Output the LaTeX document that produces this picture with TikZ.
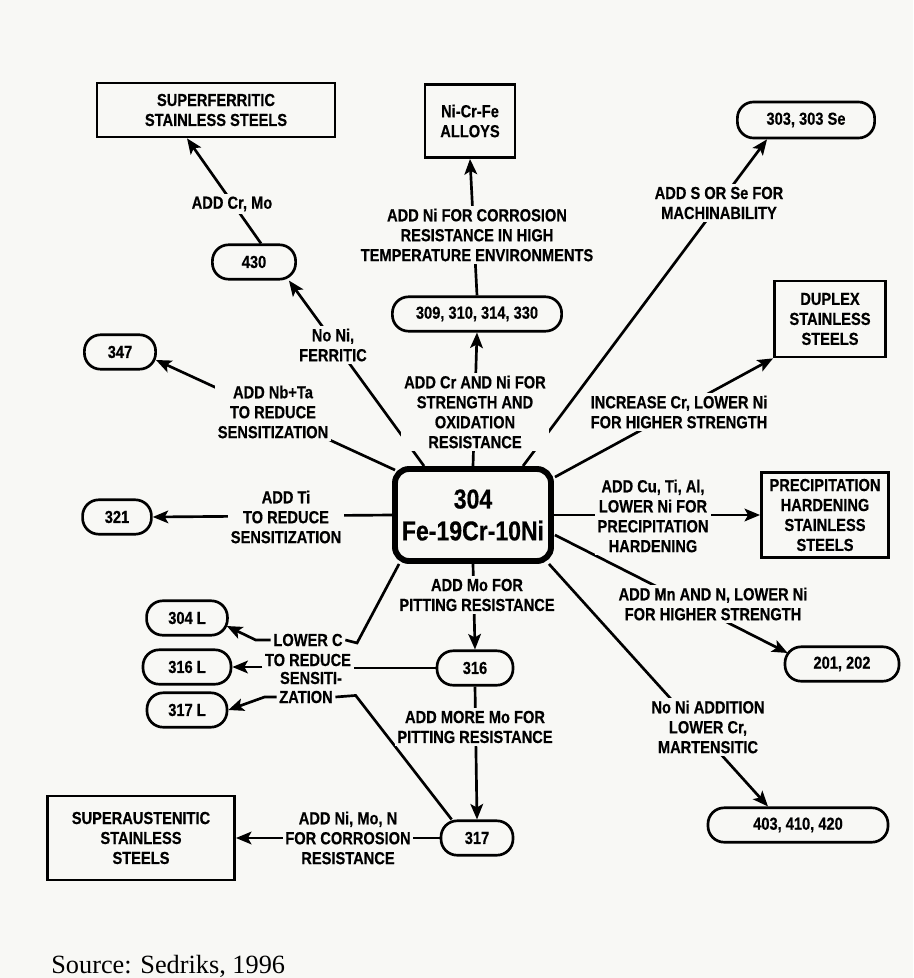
\documentclass[tikz,border=0pt]{standalone}
\usepackage{fontspec}
\setmainfont{Liberation Sans}[FakeStretch=0.84, BoldFeatures={FakeBold=0.4}]
\newfontfamily\srcfont{Liberation Serif}
\usetikzlibrary{calc,arrows.meta}
\definecolor{paper}{RGB}{248,248,245}

\begin{document}
\begin{tikzpicture}[x=0.025cm, y=-0.025cm, line width=1.9pt,
    every node/.style={font=\fontsize{12.4}{14.2}\selectfont\bfseries, align=center, inner sep=1pt},
    box/.style={draw, rectangle},
    pill/.style={draw, rectangle, rounded corners=11.5pt, minimum height=0.86cm},
    lbl/.style={fill=paper, inner sep=2pt},
    arr/.style={-{Stealth[length=11pt, width=9pt, inset=2.5pt]}}]
    \useasboundingbox (0,0) rectangle (913,978);
    \clip (0,0) rectangle (913,978);
    \fill[paper] (0,0) rectangle (913,978);
    \node[draw, line width=4.2pt, rounded corners=10pt, minimum width=3.9cm, minimum height=2.3cm, font=\fontsize{19.5}{22.7}\selectfont\bfseries] (304) at (473,515) {304\\Fe-19Cr-10Ni};
    \node[box, minimum width=5.95cm, minimum height=1.35cm] (superferritic) at (216,110) {SUPERFERRITIC\\STAINLESS STEELS};
    \node[box, minimum width=2.25cm, minimum height=1.83cm] (nicrfe) at (470,121) {Ni-Cr-Fe\\ALLOYS};
    \node[pill, minimum width=3.43cm, minimum height=0.9cm] (303) at (806,120) {303, 303 Se};
    \node[pill, minimum width=2.08cm] (430) at (254,262) {430};
    \node[pill, minimum width=4.23cm] (309) at (477,314) {309, 310, 314, 330};
    \node[pill, minimum width=1.78cm] (347) at (120,352) {347};
    \node[box, minimum width=2.78cm, minimum height=1.9cm] (duplex) at (830,319) {DUPLEX\\STAINLESS\\STEELS};
    \node[pill, minimum width=1.72cm] (321) at (117,517) {321};
    \node[box, minimum width=3.18cm, minimum height=2.13cm] (ph) at (825,515) {PRECIPITATION\\HARDENING\\STAINLESS\\STEELS};
    \node[pill, minimum width=2.02cm] (304L) at (187,618) {304 L};
    \node[pill, minimum width=2.2cm] (316L) at (187,667) {316 L};
    \node[pill, minimum width=2.0cm] (317L) at (187,710) {317 L};
    \node[pill, minimum width=1.9cm] (316) at (475,668) {316};
    \node[pill, minimum width=1.8cm] (317) at (477,838) {317};
    \node[box, minimum width=4.68cm, minimum height=2.1cm] (superaustenitic) at (141,838) {SUPERAUSTENITIC\\STAINLESS\\STEELS};
    \node[pill, minimum width=2.85cm] (201) at (842,664) {201, 202};
    \node[pill, minimum width=4.5cm] (403) at (798,825) {403, 410, 420};
    \node (lowc) at (308,640) {LOWER C};
    \node (reduce) at (308,660) {TO REDUCE};
    \node (sensiti) at (311,678) {SENSITI-};
    \node (zation) at (306,697) {ZATION};
    \draw[arr] ($(304.north west)+(32,0)$) -- ($(430.south east)+(-8,0)$);
    \draw[arr] ($(430.north)+(7,0)$) -- ($(superferritic.south)+(-29,0)$);
    \draw[arr] (304.north) -- (309.south);
    \draw[arr] (309.north) -- (nicrfe.south);
    \draw[arr] ($(304.north west)+(3,4)$) -- ($(347.east)+(-1,8)$);
    \draw[arr] ($(304.north)+(50,0)$) -- ($(303.south)+(-39,0)$);
    \draw[arr] ($(304.north east)+(1,11)$) -- (duplex.south west);
    \draw[arr] (304.east) -- (ph.west);
    \draw[arr] ($(304.east)+(1,20)$) -- ($(201.west)+(4,-11)$);
    \draw[arr] ($(304.south east)+(-5,0)$) -- ($(403.north)+(-30,0)$);
    \draw[arr] (304.west) -- (321.east);
    \draw[arr] (304.south) -- (316.north);
    \draw[arr] (316.south) -- (317.north);
    \draw[arr] (317.west) -- (superaustenitic.east);
    \draw ($(304.south west)+(7,0)$) -- ++(-42,79) -- (lowc.east);
    \draw[arr] (lowc.west) -- ++(-15,0) -- ($(304L.east)+(-2,8)$);
    \draw (316.west) -- (reduce.east |- 316.west);
    \draw[arr] (reduce.west |- 316L.east) -- (316L.east);
    \draw ($(317.north west)+(12,0)$) -- ++(-96,-124) -- (zation.east);
    \draw[arr] (zation.west) -- ++(-12,0) -- (317L.east);
    \node[lbl] (crmo) at (232,204) {ADD Cr, Mo};
    \node[lbl] (noni) at (333,345) {No Ni,\\FERRITIC};
    \node[lbl] (nbta) at (273,412) {ADD Nb+Ta\\TO REDUCE\\SENSITIZATION};
    \node[lbl] (hightemp) at (477,235) {ADD Ni FOR CORROSION\\RESISTANCE IN HIGH\\TEMPERATURE ENVIRONMENTS};
    \node[lbl] (oxid) at (475,412) {ADD Cr AND Ni FOR\\STRENGTH AND\\OXIDATION\\RESISTANCE};
    \node[lbl] (machin) at (719,203) {ADD S OR Se FOR\\MACHINABILITY};
    \node[lbl] (crni) at (679,412) {INCREASE Cr, LOWER Ni\\FOR HIGHER STRENGTH};
    \node[lbl] (ti) at (286,517) {ADD Ti\\TO REDUCE\\SENSITIZATION};
    \node[lbl] (cutial) at (653,516) {ADD Cu, Ti, Al,\\LOWER Ni FOR\\PRECIPITATION\\HARDENING};
    \node[lbl] (mnn) at (713,604) {ADD Mn AND N, LOWER Ni\\FOR HIGHER STRENGTH};
    \node[lbl] (mart) at (708,727) {No Ni ADDITION\\LOWER Cr,\\MARTENSITIC};
    \node[lbl] (mo) at (477,595) {ADD Mo FOR\\PITTING RESISTANCE};
    \node[lbl] (moremo) at (475,727) {ADD MORE Mo FOR\\PITTING RESISTANCE};
    \node[lbl] (nimon) at (348,838) {ADD Ni, Mo, N\\FOR CORROSION\\RESISTANCE};
    \node[font=\srcfont\fontsize{18.7}{22}\selectfont, anchor=base west, inner sep=0pt] (source) at (50,973) {Source: Sedriks, 1996};
\end{tikzpicture}
\end{document}
